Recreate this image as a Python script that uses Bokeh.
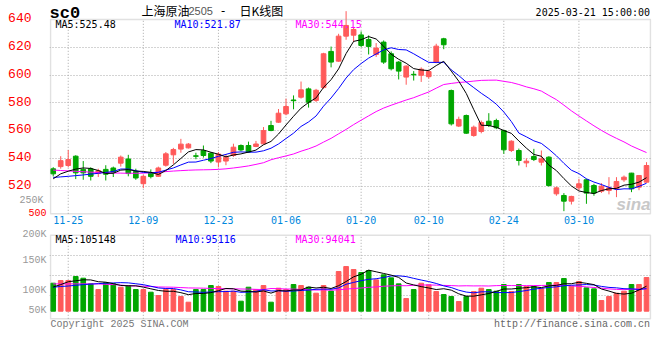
from bokeh.plotting import figure
from bokeh.models import (Range1d, FixedTicker, Grid, Label, ColumnDataSource, LinearAxis,
                          BoxAnnotation)
from bokeh.layouts import column
from bokeh.embed import file_html
from bokeh.resources import INLINE

# ---------------- data ----------------
open_ = [532.4, 534.0, 534.8, 541.5, 532.0, 532.4, 529.0, 532.0, 533.0, 536.5,
         539.5, 530.5, 521.7, 529.3, 527.0, 535.0, 542.5, 546.6, 547.5, 541.8,
         545.5, 543.7, 537.3, 538.0, 542.0, 549.2, 549.2, 548.5, 550.4, 563.6,
         566.0, 572.0, 582.0, 584.0, 590.0, 581.7, 591.0, 617.0, 610.0, 628.0,
         628.7, 628.9, 625.6, 614.8, 623.7, 615.3, 609.3, 598.5, 600.4, 599.8,
         598.8, 609.3, 626.1, 588.8, 563.2, 570.8, 556.4, 559.3, 566.7, 567.2,
         560.0, 545.6, 545.6, 536.7, 541.3, 537.2, 540.8, 514.4, 513.2, 509.1,
         518.7, 524.5, 520.4, 516.3, 516.8, 518.0, 524.5, 529.3, 519.2, 522.8]
high = [533.6, 541.5, 546.0, 542.2, 538.0, 533.5, 532.5, 535.0, 534.0, 542.0,
        542.5, 532.5, 528.0, 532.0, 534.0, 544.5, 547.5, 554.0, 551.0, 544.0,
        549.2, 544.5, 544.5, 543.0, 550.5, 550.0, 552.0, 552.5, 562.5, 567.0,
        575.5, 583.0, 585.3, 595.3, 591.0, 590.0, 616.0, 620.5, 629.7, 646.0,
        634.5, 631.4, 628.5, 623.0, 624.9, 617.0, 610.0, 607.0, 602.8, 605.5,
        603.5, 622.5, 626.8, 589.5, 570.0, 571.5, 563.6, 567.2, 572.5, 568.5,
        560.5, 553.0, 547.0, 540.0, 546.8, 545.6, 541.5, 519.7, 514.9, 513.0,
        525.2, 525.2, 521.6, 522.1, 526.4, 526.4, 527.6, 529.5, 527.6, 537.2]
low = [526.9, 532.5, 533.5, 525.0, 524.5, 524.0, 526.5, 524.0, 526.5, 534.0,
       527.0, 524.5, 518.5, 525.5, 526.5, 534.0, 536.0, 544.0, 547.0, 539.3,
       540.5, 536.5, 533.5, 535.0, 541.0, 545.0, 544.0, 548.0, 550.0, 559.5,
       565.5, 571.0, 575.3, 583.0, 576.5, 580.5, 590.0, 605.5, 609.5, 625.4,
       623.7, 620.0, 614.8, 613.0, 608.0, 603.3, 596.8, 593.0, 596.0, 595.0,
       597.5, 608.5, 618.6, 563.6, 562.5, 557.6, 555.5, 558.0, 562.5, 561.0,
       543.2, 544.5, 534.8, 533.6, 538.0, 534.8, 519.5, 513.0, 501.9, 506.7,
       517.0, 507.2, 513.0, 515.0, 514.0, 512.0, 523.0, 515.6, 517.0, 522.5]
close = [528.8, 538.3, 539.1, 529.5, 529.5, 527.0, 531.0, 528.5, 530.0, 540.8,
         529.0, 525.8, 527.0, 526.8, 533.0, 543.2, 546.3, 550.2, 550.2, 541.4,
         542.0, 538.0, 543.0, 540.8, 548.0, 546.0, 544.5, 550.3, 560.0, 560.0,
         572.5, 577.3, 581.5, 589.3, 580.4, 589.0, 615.3, 609.3, 628.0, 635.7,
         632.8, 621.3, 620.6, 619.4, 609.3, 604.5, 602.8, 606.4, 600.1, 604.2,
         602.5, 620.8, 621.8, 564.8, 568.0, 558.1, 562.4, 565.8, 563.6, 562.0,
         546.1, 552.3, 538.4, 537.9, 539.1, 539.6, 520.4, 518.7, 509.1, 512.5,
         521.6, 514.9, 514.9, 519.9, 518.7, 523.3, 526.4, 518.0, 527.6, 534.8]
volume = [117900, 129100, 129100, 146000, 138900, 115100, 91200, 119300, 115100, 101000,
          108100, 91200, 91200, 80000, 66000, 91200, 91200, 61700, 37900, 91200,
          91200, 108100, 103900, 84200, 84200, 42100, 101000, 91200, 108100, 37900,
          96800, 91200, 112300, 108100, 101000, 75800, 108100, 85000, 167000, 188000,
          175400, 162800, 171200, 131900, 153000, 140300, 115100, 53300, 91200, 117900,
          110900, 82800, 70200, 61700, 40700, 61700, 82800, 96800, 91200, 84200,
          112300, 82800, 112300, 103900, 103900, 94000, 120700, 120700, 137500, 105300,
          125000, 98200, 94000, 44900, 61700, 75800, 84200, 112300, 112300, 141700]

# moving-average values before enough history is visible
ma5_head = [525.2, 528.8, 530.7, 532.2]
ma10_head = [526.2, 526.6, 527.0, 527.5, 528.0, 528.6, 529.2, 529.8, 530.5]
ma30_head = [531.5, 531.2, 530.9, 530.6, 530.3, 530.0, 529.8, 529.6, 529.4, 529.3,
             529.2, 529.2, 529.3, 529.6, 530.0, 530.4, 530.8, 531.1, 531.4, 531.6,
             531.7, 531.8, 532.0, 532.4, 533.0, 533.7, 534.5, 535.6, 536.8]
vma5_head = [102000, 112000, 124000, 128000]
vma10_head = [101000, 104000, 106000, 109000, 112000, 114000, 116000, 118000, 119000]
vma30_head = [115000, 115000, 115000, 115000, 115000, 115000, 115000, 113000, 112000, 110000,
              107000, 106000, 105000, 104000, 102000, 101500, 101000, 99500, 98000, 97500,
              97000, 96000, 95000, 94500, 94000, 93500, 93000, 92000, 91000]

tick_labels = ["11-25", "12-09", "12-23", "01-06", "01-20", "02-10", "02-24", "03-10"]
tick_index = [2, 12, 22, 31, 41, 50, 60, 70]
PRICE_MIN, PRICE_MAX = 500, 640
price_ticks = [520, 540, 560, 580, 600, 620, 640]
price_grid = [520, 540, 560, 580, 600, 620]
price_low_tick = [500]
odd_tick = [509.7]          # where the stray "250K" label sits
odd_tick_text = ["250K"]

VOL_MIN, VOL_MAX = -32000, 320000
vol_label_text = ["200K", "150K", "100K", "50K"]
vol_label_at = [341000, 212000, 86000, 2000]
vol_grid = [234000, 150000, 66000]

ma_text = ["MA5:525.48", "MA10:521.87", "MA30:544.15"]
vma_text = ["MA5:105148", "MA10:95116", "MA30:94041"]

# ---------------- derived ----------------
def sma(vals, n, head):
    out = list(head)
    for i in range(len(head), len(vals)):
        out.append(sum(vals[i - n + 1:i + 1]) / n)
    return out

n = len(close)
xs = list(range(n))
UP, DOWN = "#ff5a5a", "#00a600"
colors = [UP if c >= o else DOWN for o, c in zip(open_, close)]
body_top = [max(o, c) for o, c in zip(open_, close)]
body_bot = [min(o, c) for o, c in zip(open_, close)]
body_top = [t if t - b >= 0.4 else b + 0.4 for t, b in zip(body_top, body_bot)]

src = ColumnDataSource(dict(x=xs, high=high, low=low, top=body_top, bottom=body_bot,
                            color=colors, vol=volume))

MONO = "DejaVu Sans Mono"
CMONO = "Liberation Mono"
CJK = "Noto Sans CJK SC"
GRID_COLOR = "#a8a8a8"
FRAME = "#9a9a9a"
W = 660

# visible box spans x = -0.36 .. 79.53 (candle index); frame is 1px wider each side
X0, X1 = -0.36, 79.53
PAD = 1 / 7.51
xr = Range1d(X0 - PAD, X1 + PAD)


def bare_axis(ax, color, font, size, standoff):
    ax.axis_line_color = None
    ax.major_tick_line_color = None
    ax.minor_tick_line_color = None
    ax.major_tick_out = 0
    ax.major_tick_in = 0
    ax.minor_tick_out = 0
    ax.minor_tick_in = 0
    ax.major_label_standoff = standoff
    ax.major_label_text_color = color
    ax.major_label_text_font = font
    ax.major_label_text_font_size = size


def lab(p, x, y, text, font, size, color, align="left", style="normal"):
    p.add_layout(Label(x=x, y=y, x_units="screen", y_units="screen", text=text,
                       text_font=font, text_font_size=size, text_color=color,
                       text_align=align, text_baseline="middle", text_font_style=style))


# ---------------- price panel (frame 0..215 px, box 19..213.3 px) ----------------
PX = 1.3886            # px per price unit
LIFT = 1.6 / PX        # the price labels sit slightly above their grid lines
p1 = figure(width=W, height=228, x_range=xr,
            y_range=Range1d(PRICE_MIN - 1.7 / PX, PRICE_MAX + 19 / PX),
            output_backend="svg", toolbar_location=None,
            x_axis_location="below", y_axis_location=None,
            min_border_left=49, min_border_right=9, min_border_top=0, min_border_bottom=13,
            background_fill_color="white", border_fill_color="white",
            outline_line_color=None)
p1.grid.visible = False
p1.add_layout(Grid(dimension=1, ticker=FixedTicker(ticks=price_grid),
                   grid_line_color=GRID_COLOR, grid_line_dash="1 2", grid_line_width=1))
p1.segment(x0=tick_index, x1=tick_index, y0=[PRICE_MIN] * len(tick_index),
           y1=[PRICE_MAX] * len(tick_index), line_color=GRID_COLOR, line_dash="1 2",
           line_width=1)

xa = p1.xaxis[0]
xa.ticker = FixedTicker(ticks=tick_index)
xa.major_label_overrides = {i: t for i, t in zip(tick_index, tick_labels)}
bare_axis(xa, "#0088dd", MONO, "10px", 0)

low_pos = [t + LIFT * 0.7 for t in price_low_tick]
ax_a = LinearAxis(ticker=FixedTicker(ticks=low_pos),
                  major_label_overrides={p: str(t) for p, t in zip(low_pos, price_low_tick)})
bare_axis(ax_a, "#ff0000", CMONO, "10px", 3)
p1.add_layout(ax_a, "left")
ax_b = LinearAxis(ticker=FixedTicker(ticks=odd_tick),
                  major_label_overrides={v: t for v, t in zip(odd_tick, odd_tick_text)})
bare_axis(ax_b, "#999999", CMONO, "10px", -18)
p1.add_layout(ax_b, "left")
main_pos = [t + LIFT for t in price_ticks]
ax_c = LinearAxis(ticker=FixedTicker(ticks=main_pos),
                  major_label_overrides={p: str(t) for p, t in zip(main_pos, price_ticks)})
bare_axis(ax_c, "#ff0000", CMONO, "13px", -15)
p1.add_layout(ax_c, "left")

p1.segment(x0="x", y0="low", x1="x", y1="high", color="color", line_width=1, source=src)
p1.vbar(x="x", top="top", bottom="bottom", width=0.62, fill_color="color",
        line_color="color", line_width=1, source=src)

p1.line(xs, sma(close, 30, ma30_head), color="#ff00ff", line_width=1)
p1.line(xs, sma(close, 10, ma10_head), color="#0000ff", line_width=1)
p1.line(xs, sma(close, 5, ma5_head), color="#000000", line_width=1)

p1.add_layout(BoxAnnotation(left=X0, right=X1, bottom=PRICE_MIN, top=PRICE_MAX,
                            fill_color=None, line_color=FRAME, line_width=1.5))

FB1 = 215  # frame bottom in page px; labels are placed relative to it
for txt, xo, col in zip(ma_text, [6, 125, 246], ["#000000", "#0000ff", "#ff00ff"]):
    lab(p1, xo, FB1 - 24, txt, MONO, "10px", col)

lab(p1, 601, FB1 - 204, "sina", "Liberation Sans", "17px", "#c8c8c8", "right", "bold italic")

# title row (inside the frame, above the box)
lab(p1, 0, FB1 - 12.5, "sc0", CMONO, "17px", "#000000", style="bold")
lab(p1, 92, FB1 - 9.7, "上海原油", CJK, "12px", "#000000")
lab(p1, 139, FB1 - 10, "2505", "Liberation Sans", "11px", "#555555")
lab(p1, 170, FB1 - 9.7, "-", MONO, "12px", "#000000")
lab(p1, 190, FB1 - 9.7, "日K线图", CJK, "12px", "#000000")
lab(p1, 600.5, FB1 - 12, "2025-03-21 15:00:00", MONO, "10px", "#000000", "right")

# ---------------- volume panel (frame 228..331 px, box 234.7..318.3 px) ----------------
VPX = 4210.0  # volume per px; zero sits at 310.7 px
p2 = figure(width=W, height=104, x_range=xr,
            y_range=Range1d(-(331 - 310.7) * VPX, (310.7 - 228) * VPX),
            output_backend="svg", toolbar_location=None,
            x_axis_location=None, y_axis_location="left",
            min_border_left=49, min_border_right=9, min_border_top=0, min_border_bottom=1,
            background_fill_color="white", border_fill_color="white",
            outline_line_color=None)
p2.grid.visible = False
p2.add_layout(Grid(dimension=1, ticker=FixedTicker(ticks=vol_grid),
                   grid_line_color=GRID_COLOR, grid_line_dash="1 2", grid_line_width=1))
p2.segment(x0=tick_index, x1=tick_index, y0=[VOL_MIN] * len(tick_index),
           y1=[VOL_MAX] * len(tick_index), line_color=GRID_COLOR, line_dash="1 2",
           line_width=1)

ya2 = p2.yaxis[0]
ya2.ticker = FixedTicker(ticks=vol_label_at)
ya2.major_label_overrides = {v: t for v, t in zip(vol_label_at, vol_label_text)}
bare_axis(ya2, "#999999", CMONO, "10px", 3)

p2.vbar(x="x", top="vol", bottom=0, width=0.62, fill_color="color", line_color="color",
        line_width=1, source=src)
p2.line(xs, sma(volume, 30, vma30_head), color="#ff00ff", line_width=1)
p2.line(xs, sma(volume, 10, vma10_head), color="#0000ff", line_width=1)
p2.line(xs, sma(volume, 5, vma5_head), color="#000000", line_width=1)

p2.add_layout(BoxAnnotation(left=X0, right=X1, bottom=VOL_MIN, top=VOL_MAX,
                            fill_color=None, line_color=FRAME, line_width=1.5))

FB2 = 331
for txt, xo, col in zip(vma_text, [6, 126, 246], ["#000000", "#0000ff", "#ff00ff"]):
    lab(p2, xo, FB2 - 238.5, txt, MONO, "10px", col)

lab(p2, 1, FB2 - 323.5, "Copyright 2025 SINA.COM", CMONO, "10px", "#777777")
lab(p2, 600.5, FB2 - 323.5, "http://finance.sina.com.cn", CMONO, "10px", "#666666", "right")

layout = column(p1, p2)
open("out.html", "w").write(file_html(layout, INLINE))
